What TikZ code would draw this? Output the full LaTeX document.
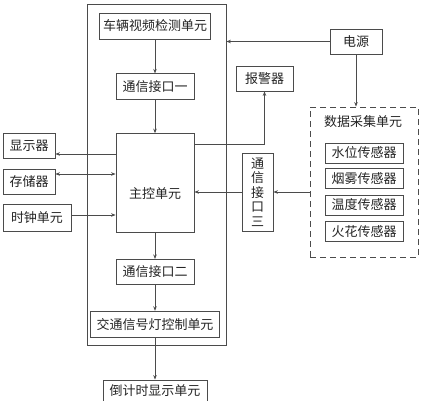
\documentclass[tikz,border=0pt]{standalone}
\usepackage{fontspec}
\setmainfont{Noto Sans CJK SC}
\usetikzlibrary{positioning,calc,arrows.meta}
\definecolor{lineGray}{RGB}{75,75,75}
\definecolor{textGray}{RGB}{35,35,35}

\begin{document}
\begin{tikzpicture}
  [x=1pt,y=-1pt,line width=0.8pt,
   font=\fontsize{13}{14.5}\selectfont,
   >={Stealth[length=4.5pt,width=3.5pt]},
   boxN/.style={draw=lineGray,text=textGray,minimum height=25pt,inner sep=1pt},
   outerN/.style={draw=lineGray,inner sep=0pt},
   dashN/.style={draw=lineGray,dash pattern=on 6pt off 4pt,inner sep=0pt},
   textN/.style={text=textGray,inner sep=1pt},
   conN/.style={->,draw=lineGray},
  ]

 \useasboundingbox (0,0) rectangle (421,400);

 % control unit frame and its chain
 \node[outerN,minimum width=139pt,minimum height=341pt] (ctrl) at (156.5,174.5) {};
 \node[boxN,minimum width=111pt,minimum height=26pt] (video) at (155,26) {车辆视频检测单元};
 \node[boxN,minimum width=78pt,minimum height=26pt] (com1) [below=34pt of video] {通信接口一};
 \node[boxN,minimum width=78pt,minimum height=99pt,text height=31pt] (main) [below=33pt of com1] {主控单元};
 \node[boxN,minimum width=78pt] (com2) [below=26pt of main] {通信接口二};
 \node[boxN,minimum width=129pt,minimum height=26pt] (light) [below=26pt of com2] {交通信号灯控制单元};
 \node[boxN,minimum width=104pt,minimum height=21pt] (count) [below=42pt of light] {倒计时显示单元};

 % left side
 \node[boxN,minimum width=52pt] (disp) at (29,145.5) {显示器};
 \node[boxN,minimum width=52pt] (store) at (29,181.5) {存储器};
 \node[boxN,minimum width=68pt,minimum height=27pt] (clock) at (37,217.5) {时钟单元};

 % right side
 \node[boxN,minimum width=52pt] (power) at (356,41.5) {电源};
 \node[boxN,minimum width=57pt] (alarm) at (264.5,78.5) {报警器};
 \node[boxN,minimum width=31pt,minimum height=78pt,align=center] (com3) at (257.5,192) {通\\信\\接\\口\\三};
 \node[dashN,minimum width=108pt,minimum height=150pt] (acq) at (364,182) {};
 \node[textN] (acqT) at (363,122) {数据采集单元};
 \foreach \y/\n/\t in {153/s1/水位传感器,178.5/s2/烟雾传感器,205/s3/温度传感器,231.5/s4/火花传感器}
   \node[boxN,minimum width=78pt,minimum height=20pt] (\n) at (364,\y) {\t};

 % connectors
 \draw[conN] (video) -- (com1);
 \draw[conN] (com1) -- (main);
 \draw[conN] (main) -- (com2);
 \draw[conN] (com2) -- (light);
 \draw[conN] (light) -- (count);

 \coordinate (dspIn) at ([yshift=-8.5pt]disp.east);
 \draw[conN] (main.west |- dspIn) -- (dspIn);
 \coordinate (stoIn) at ([yshift=7.5pt]store.east);
 \draw[conN,<->] (stoIn) -- (main.west |- stoIn);
 \coordinate (clkOut) at ([yshift=2.5pt]clock.east);
 \draw[conN] (clkOut) -- (main.west |- clkOut);

 \draw[conN] (power.west) -- (ctrl.east |- power.west);
 \draw[conN] (power.south) -- (power.south |- acq.north);
 \coordinate (almOut) at ([yshift=-11pt]main.north east);
 \draw[conN] (almOut) -| (alarm.south);
 \draw[conN] (acq.west |- com3) -- (com3.east);
 \draw[conN] (com3.west) -- (main.east |- com3);

\end{tikzpicture}
\end{document}
